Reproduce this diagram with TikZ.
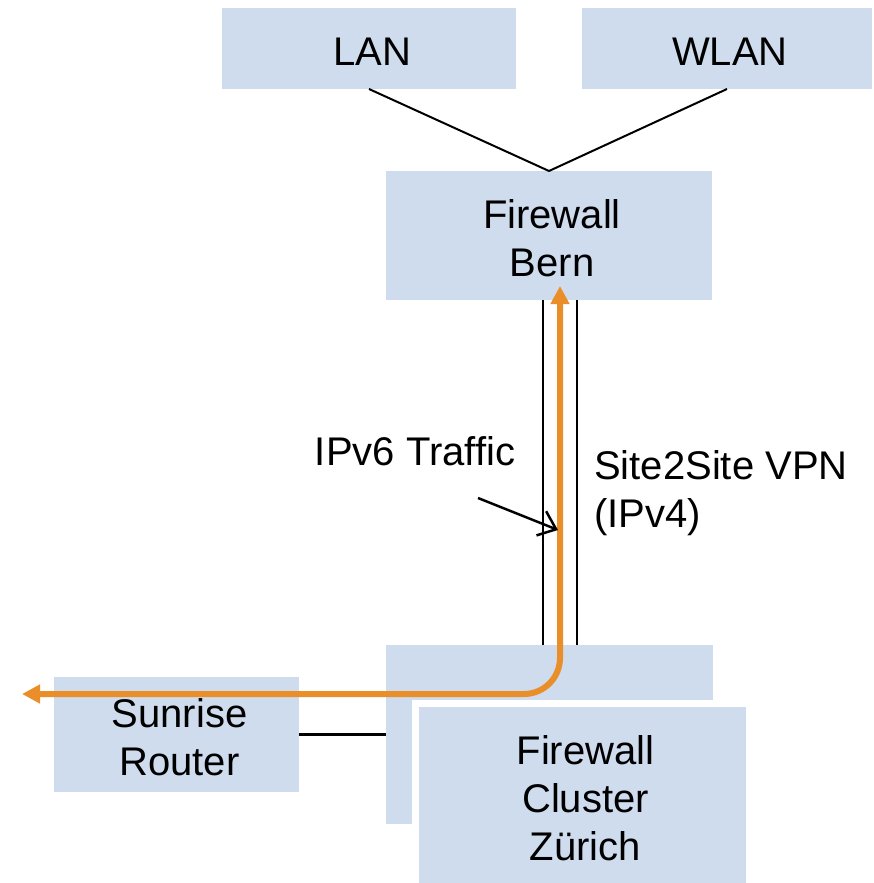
\documentclass[tikz,border=0pt]{standalone}
\usepackage{fontspec}
\setmainfont{Liberation Sans}
\usetikzlibrary{arrows.meta,calc}
\definecolor{boxblue}{RGB}{207,220,238}
\definecolor{flow}{RGB}{233,142,41}
\begin{document}
\begin{tikzpicture}[x=1pt,y=-1pt,
  box/.style={fill=boxblue, inner sep=0pt, outer sep=0pt},
  boxtext/.style={align=center, inner sep=0pt, xshift=3pt, yshift=-3pt,
    font=\fontsize{40}{48}\selectfont},
  link/.style={draw=black, line width=2.5pt},
  lbl/.style={font=\fontsize{40}{48}\selectfont, inner sep=0pt}]
\useasboundingbox (0,0) rectangle (873,883);
\clip (0,0) rectangle (873,883);

% network boxes
\node[box, minimum width=294, minimum height=81,
  label={[boxtext]center:LAN}] (lan) at (369,48.5) {};
\node[box, minimum width=290, minimum height=81,
  label={[boxtext]center:WLAN}] (wlan) at (727,48.5) {};
\node[box, minimum width=326, minimum height=129,
  label={[boxtext]center:{Firewall\\Bern}}] (bern) at (549,235.5) {};
\node[box, minimum width=245, minimum height=115,
  label={[boxtext]center:{Sunrise\\Router}}] (sunrise) at (176.5,734.5) {};
\node[box, minimum width=327, minimum height=179] (zback) at (549.5,734.5) {};
\node[box, draw=white, line width=7pt, minimum width=334, minimum height=183,
  label={[boxtext]center:{Firewall\\Cluster\\Zürich}}] (zfront) at (582.5,795) {};

% wired links
\draw[link, line width=2pt] (lan.south) -- (bern.north);
\draw[link, line width=2pt] (wlan.south) -- (bern.north);
\draw[link] (sunrise.east) -- (sunrise.east -| zback.west);

% VPN tunnel walls
\draw[link] ($(bern.south)+(-6,0)$) -- ($(zback.north)+(-6.5,0)$);
\draw[link] ($(bern.south)+(28,0)$) -- ($(zback.north)+(27.5,0)$);

% labels
\node[lbl] (ipv6) at (415,451) {IPv6 Traffic};
\node[lbl, anchor=west, align=left] (vpn) at (594,493) {Site2Site VPN\\(IPv4)};

% IPv6 traffic path
\coordinate (exit) at (22,694);
\coordinate (bend) at (560,694);
\coordinate (vpntop) at (560,286);
\draw[flow, line width=6pt, rounded corners=36pt,
  {Triangle[length=18pt,width=18pt]}-{Triangle[length=18pt,width=18pt]}]
  (exit) -- (bend) -- (vpntop);

% pointer to the traffic path
\coordinate (ptrstart) at (478,498);
\coordinate (ptrend) at (558,530);
\draw[link, -{Straight Barb[length=16pt,width=26pt]}] (ptrstart) -- (ptrend);
\end{tikzpicture}
\end{document}
